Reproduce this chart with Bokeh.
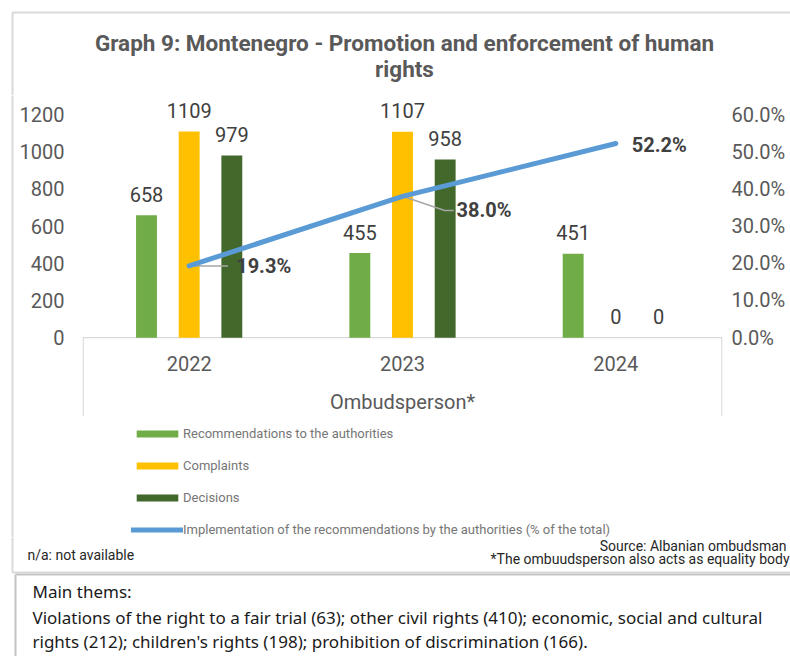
from bokeh.plotting import figure
from bokeh.layouts import column, row
from bokeh.models import (Range1d, LinearAxis, FixedTicker, NumeralTickFormatter,
                          Legend, LegendItem)
from bokeh.core.properties import value
from bokeh.embed import file_html
from bokeh.resources import INLINE

# ---------------- data ----------------
years = ["2022", "2023", "2024"]
recommendations = [658, 455, 451]
complaints = [1109, 1107, 0]
decisions = [979, 958, 0]
implementation = [0.193, 0.380, 0.522]   # share of the total
count_ticks = [0, 200, 400, 600, 800, 1000, 1200]
pct_ticks = [0.0, 0.1, 0.2, 0.3, 0.4, 0.5, 0.6]
axis_title = "Ombudsperson*"
title_lines = ["Graph 9: Montenegro - Promotion and enforcement of human", "rights"]
series_names = ["Recommendations to the authorities", "Complaints", "Decisions",
                "Implementation of the recommendations by the authorities (% of the total)"]
note_left = "n/a: not available"
note_source = "Source: Albanian ombudsman"
note_body = "*The ombuudsperson also acts as equality body"
themes = ["Main thems:",
          "Violations of the right to a fair trial (63); other civil rights (410); economic, social and cultural",
          "rights (212); children's rights (198); prohibition of discrimination (166)."]

# ---------------- style ----------------
FONT = "Roboto"
C_REC, C_COMP, C_DEC, C_LINE = "#70AD47", "#FFC000", "#43682B", "#5B9BD5"
GRID = "#d9d9d9"
BORDER = "#d9d9d9"
BOX = "#c4c4c4"
TXT = "#595959"
W = 790
TOP_H = 95          # title band
MID_H = 442         # chart band
BOT_H = 656 - TOP_H - MID_H


def blank(width, height, x0, x1, y_top, y_bottom):
    f = figure(width=width, height=height, output_backend="svg", toolbar_location=None,
               x_axis_type=None, y_axis_type=None,
               x_range=Range1d(x0, x1), y_range=Range1d(y_bottom, y_top),
               min_border=0)
    f.outline_line_color = None
    f.background_fill_color = "white"
    f.border_fill_color = "white"
    return f


# ---------- title band (pixel coordinates, y flipped) ----------
top = blank(W, TOP_H, 0, W, 0, TOP_H)
top.segment(x0=[12, 12], y0=[12, 12], x1=[W, 12], y1=[12, TOP_H], line_color=BORDER, line_width=2)
top.text(x=[404, 404], y=[42, 68], text=title_lines, text_align="center", text_baseline="middle",
         text_font=value(FONT), text_font_size="22.5px", text_font_style="bold", text_color=TXT)

# ---------- left strip (chart border) ----------
strip = blank(16, MID_H, 0, 16, 0, MID_H)
strip.segment(x0=[12], y0=[0], x1=[12], y1=[MID_H], line_color=BORDER, line_width=2)

# ---------- chart ----------
ppu = 223.0 / 1200.0
y_end = 1200 + 19 / ppu
y_start = -(TOP_H + MID_H - 337.3) / ppu
PCT_F = 2000.0

p = figure(width=W - 16, height=MID_H, output_backend="svg", toolbar_location=None,
           x_axis_type=None, y_axis_type=None,
           x_range=Range1d(0, 3), y_range=Range1d(y_start, y_end),
           min_border_left=63, min_border_right=68, min_border_top=0, min_border_bottom=0)
p.outline_line_color = None
p.background_fill_color = "white"
p.border_fill_color = "white"
p.extra_y_ranges = {"pct": Range1d(y_start / PCT_F, y_end / PCT_F)}

yaxis = LinearAxis(ticker=FixedTicker(ticks=count_ticks))
raxis = LinearAxis(y_range_name="pct", ticker=FixedTicker(ticks=pct_ticks),
                   formatter=NumeralTickFormatter(format="0.0%"))
for ax, so in ((yaxis, 18), (raxis, 9)):
    ax.axis_line_color = None
    ax.major_tick_line_color = None
    ax.minor_tick_line_color = None
    ax.major_tick_out = 0
    ax.major_tick_in = 0
    ax.major_label_standoff = so
    ax.major_label_text_font = FONT
    ax.major_label_text_font_size = "20px"
    ax.major_label_text_color = TXT
p.add_layout(yaxis, "left")
p.add_layout(raxis, "right")
p.ygrid.ticker = FixedTicker(ticks=count_ticks)
p.ygrid.grid_line_color = GRID

# category axis lines
p.segment(x0=[0, 0.003, 2.997], y0=[0, 0, 0], x1=[3, 0.003, 2.997], y1=[0, -420, -420],
          line_color=GRID, line_width=1.3)

centers = [i + 0.5 for i in range(len(years))]
offs = [-0.2, 0.0, 0.2]
bw = 0.098
r_rec = p.vbar(x=[c + offs[0] for c in centers], top=recommendations, width=bw,
               fill_color=C_REC, line_color=None)
r_comp = p.vbar(x=[c + offs[1] for c in centers], top=complaints, width=bw,
                fill_color=C_COMP, line_color=None)
r_dec = p.vbar(x=[c + offs[2] for c in centers], top=decisions, width=bw,
               fill_color=C_DEC, line_color=None)

for vals, o in zip([recommendations, complaints, decisions], offs):
    p.text(x=[c + o for c in centers], y=vals, text=[str(v) for v in vals],
           text_align="center", text_baseline="alphabetic", y_offset=-21,
           text_font=value(FONT), text_font_size="20px", text_color="#404040")

# leader lines of the percentage labels
p.multi_line(xs=[[0.5, 0.682], [1.5, 1.698, 1.740]],
             ys=[[implementation[0], implementation[0]],
                 [implementation[1], 0.3417, 0.3417]],
             y_range_name="pct", line_color="#a6a6a6", line_width=1.5)

r_line = p.line(x=centers, y=implementation, y_range_name="pct", line_color=C_LINE,
                line_width=5, line_cap="round", line_join="round")

p.text(x=centers, y=implementation, text=["%.1f%%" % (v * 100) for v in implementation],
       y_range_name="pct", x_offset=[47, 54, 16], y_offset=[0, 14, 1],
       text_align="left", text_baseline="middle", text_font=value(FONT),
       text_font_size="20px", text_font_style="bold", text_color="#404040")

# category labels
p.text(x=centers, y=[0] * 3, text=years, y_offset=26, text_align="center",
       text_baseline="middle", text_font=value(FONT), text_font_size="20px", text_color=TXT)
p.text(x=[1.5], y=[0], text=[axis_title], y_offset=64, text_align="center",
       text_baseline="middle", text_font=value(FONT), text_font_size="20px", text_color=TXT)

legend = Legend(items=[LegendItem(label=series_names[0], renderers=[r_rec]),
                       LegendItem(label=series_names[1], renderers=[r_comp]),
                       LegendItem(label=series_names[2], renderers=[r_dec]),
                       LegendItem(label=series_names[3], renderers=[r_line])],
                location=(49, 0), orientation="vertical",
                glyph_width=52, glyph_height=9, label_height=16, spacing=16,
                label_standoff=0, padding=0, margin=0,
                border_line_color=None, background_fill_alpha=0,
                label_text_font=FONT, label_text_font_size="13px", label_text_color="#767676")
p.add_layout(legend, "center")

# ---------- bottom band (pixel coordinates, y flipped) ----------
y0b = TOP_H + MID_H
bot = blank(W, BOT_H, 0, W, y0b, 656)
bot.segment(x0=[12, 12], y0=[y0b, 572], x1=[12, W], y1=[572, 572], line_color=BORDER, line_width=2)
bot.segment(x0=[15, 15], y0=[574, 574], x1=[W, 15], y1=[574, 656], line_color=BOX, line_width=2)
bot.text(x=[27], y=[554], text=[note_left], text_align="left", text_baseline="middle",
         text_font=value(FONT), text_font_size="14px", text_color="#262626")
bot.text(x=[786, 789], y=[545, 558], text=[note_source, note_body], text_align="right",
         text_baseline="middle", text_font=value(FONT), text_font_size="14px", text_color="#262626")
bot.text(x=[32, 32, 32], y=[591, 617, 641], text=themes, text_align="left", text_baseline="middle",
         text_font=value("Noto Sans"), text_font_size="17px", text_color="#1a1a1a")

layout = column(top, row(strip, p, spacing=0), bot, spacing=0)
open("out.html", "w").write(file_html(layout, INLINE))
